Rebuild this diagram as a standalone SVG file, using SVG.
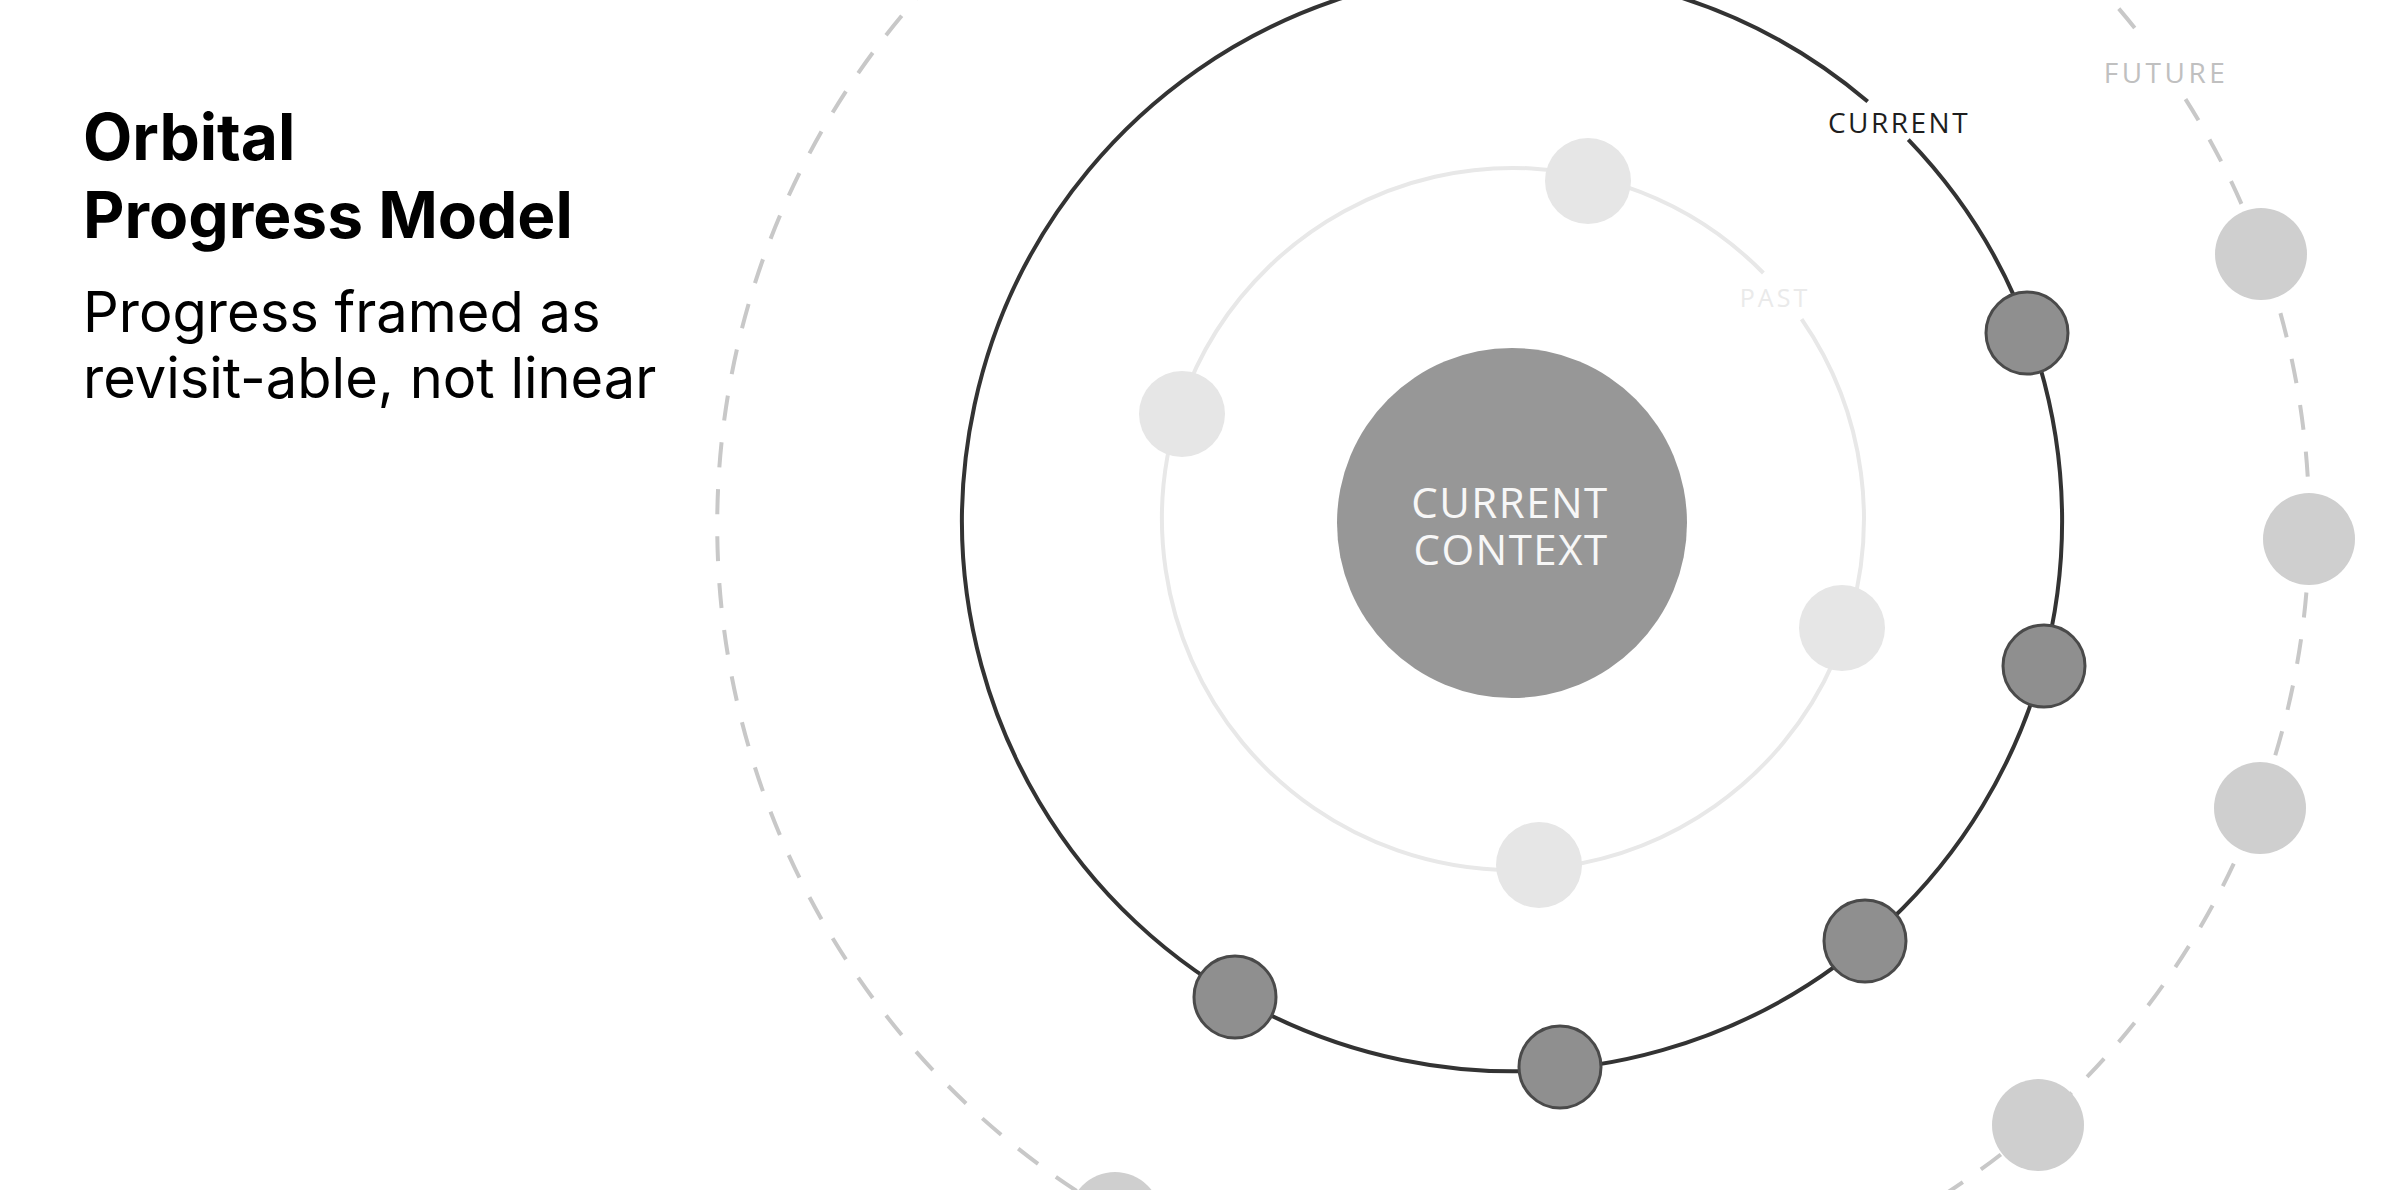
<svg xmlns="http://www.w3.org/2000/svg" width="2400" height="1190" viewBox="0 0 2400 1190">
<style>
.title{font-family:Inter,"Liberation Sans",sans-serif;font-weight:700;font-size:64px;fill:#000}
.sub{font-family:Inter,"Liberation Sans",sans-serif;font-weight:400;font-size:56px;fill:#000}
.lbl{font-family:"Open Sans","Noto Sans",sans-serif;text-anchor:middle}
.past{fill:#e6e6e6}
.cur{fill:#8f8f8f;stroke:#4a4a4a;stroke-width:3}
.fut{fill:#cfcfcf}
</style>
<rect x="0" y="0" width="2400" height="1190" fill="#ffffff"/>
<g id="heading">
<text class="title" x="83" y="160">Orbital</text>
<text class="title" x="83" y="238">Progress Model</text>
<text class="sub" x="83" y="332">Progress framed as</text>
<text class="sub" x="83" y="398">revisit-able, not linear</text>
</g>
<g id="orbits" fill="none">
<path id="orbit-future" d="M 2185.5 99.1 A 796 796 0 1 1 2143.7 39.4" stroke="#c8c8c8" stroke-width="4" stroke-dasharray="25 22"/>
<path id="orbit-current" d="M 1908.3 139.6 A 550 550 0 1 1 1867.7 101.5" stroke="#333333" stroke-width="4"/>
<path id="orbit-past" d="M 1801.6 319.2 A 351 351 0 1 1 1763.4 273.0" stroke="#e8e8e8" stroke-width="4"/>
</g>
<g id="labels">
<text class="lbl" x="2166" y="83" font-size="28" letter-spacing="3.5" fill="#c0c0c0">FUTURE</text>
<text class="lbl" x="1899" y="133" font-size="28" letter-spacing="2.5" fill="#1e1e1e">CURRENT</text>
<text class="lbl" x="1775" y="307" font-size="25" letter-spacing="3" fill="#eaeaea">PAST</text>
</g>
<g id="center-node">
<circle cx="1512" cy="523" r="175" fill="#979797"/>
<text class="lbl" font-size="42" letter-spacing="1.5" fill="#f7f7f7"><tspan x="1510" y="518">CURRENT</tspan><tspan x="1511" y="565">CONTEXT</tspan></text>
</g>
<g id="past-nodes">
<circle id="past-1" class="past" cx="1588" cy="181" r="43"/>
<circle id="past-2" class="past" cx="1182" cy="414" r="43"/>
<circle id="past-3" class="past" cx="1842" cy="628" r="43"/>
<circle id="past-4" class="past" cx="1539" cy="865" r="43"/>
</g>
<g id="current-nodes">
<circle id="cur-1" class="cur" cx="2027" cy="333" r="41"/>
<circle id="cur-2" class="cur" cx="2044" cy="666" r="41"/>
<circle id="cur-3" class="cur" cx="1865" cy="941" r="41"/>
<circle id="cur-4" class="cur" cx="1560" cy="1067" r="41"/>
<circle id="cur-5" class="cur" cx="1235" cy="997" r="41"/>
</g>
<g id="future-nodes">
<circle id="fut-1" class="fut" cx="2261" cy="254" r="46"/>
<circle id="fut-2" class="fut" cx="2309" cy="539" r="46"/>
<circle id="fut-3" class="fut" cx="2260" cy="808" r="46"/>
<circle id="fut-4" class="fut" cx="2038" cy="1125" r="46"/>
<circle id="fut-5" class="fut" cx="1115" cy="1218" r="46"/>
</g>
</svg>
